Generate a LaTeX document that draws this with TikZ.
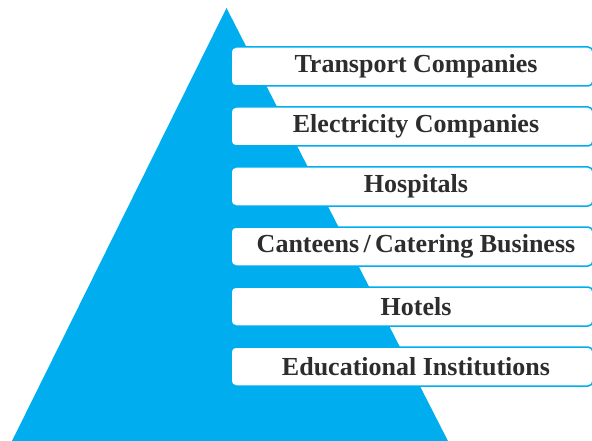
\documentclass[tikz,border=0pt]{standalone}
\usepackage{fontspec}
\setmainfont{Liberation Serif}
\usetikzlibrary{calc}
\definecolor{skyblue}{RGB}{0,174,239}
\definecolor{inkgray}{RGB}{45,45,45}

\begin{document}
\begin{tikzpicture}[x=1pt,y=-1pt]
    \useasboundingbox (0,0) rectangle (592,441);
    \clip (0,0) rectangle (592,441);
    \fill[skyblue] (226.5,8) -- (448,441) -- (12,441) -- cycle;

    \begin{scope} [every node/.style={draw=skyblue,line width=1.5pt,fill=white,
            rounded corners=5pt,minimum width=362pt,minimum height=39pt,inner sep=0pt}]
        \foreach \i in {1,...,6}{
            \node (b\i) at (412,6.5+60*\i) {};
        }
    \end{scope}

    \begin{scope} [every node/.style={text=inkgray,font=\bfseries\fontsize{26}{29}\selectfont}]
        \foreach \i/\name in {1/{Transport Companies},2/{Electricity Companies},
                3/{Hospitals},4/{Canteens\,/\,Catering Business},5/{Hotels},
                6/{Educational Institutions}}{
            \node (t\i) at ($(b\i.center)+(4,0)$) {\name};
        }
    \end{scope}
\end{tikzpicture}
\end{document}
